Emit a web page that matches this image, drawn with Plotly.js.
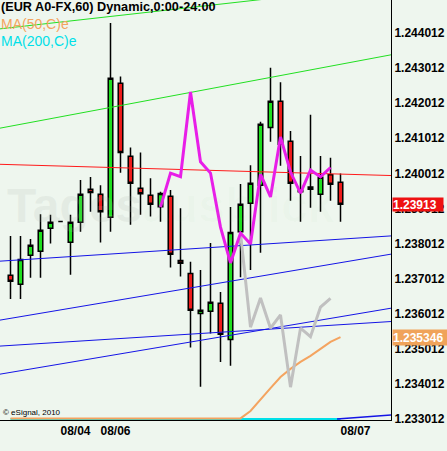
<!DOCTYPE html>
<html>
<head>
<meta charset="utf-8">
<script src="https://cdn.plot.ly/plotly-3.0.1.min.js"></script>
<style>
  html, body { margin: 0; padding: 0; background: #eef6ee; }
  #chart { width: 447px; height: 451px; }
</style>
</head>
<body>
<div id="chart"></div>
<script>
// EUR A0-FX hourly bars
const barIndex = [0,1,2,3,4,5,6,7,8,9,10,11,12,13,14,15,16,17,18,19,20,21,22,23,24,25,26,27,28,29,30,31,32,33];
const openPx  = [1.23711,1.23685,1.23768,1.23779,1.23845,1.23864,1.23805,1.23862,1.23956,1.23942,1.23876,1.24258,1.24050,1.23959,1.23939,1.23906,1.23936,1.23753,1.23716,1.23602,1.23608,1.23631,1.23528,1.23835,1.23916,1.23967,1.24132,1.24207,1.24093,1.23953,1.23962,1.23942,1.23997,1.23976];
const highPx  = [1.23823,1.23823,1.23814,1.23885,1.23883,1.23864,1.23883,1.23982,1.23991,1.23967,1.24430,1.24277,1.24075,1.24061,1.23987,1.23949,1.23954,1.23902,1.23749,1.23726,1.23803,1.23663,1.23905,1.23971,1.24024,1.24148,1.24302,1.24261,1.24122,1.24051,1.24168,1.24051,1.24046,1.24001];
const lowPx   = [1.23643,1.23643,1.23704,1.23704,1.23801,1.23864,1.23712,1.23835,1.23892,1.23804,1.23835,1.24003,1.23855,1.23883,1.23878,1.23863,1.23733,1.23707,1.23505,1.23393,1.23545,1.23464,1.23453,1.23705,1.23726,1.23775,1.24091,1.24023,1.23923,1.23863,1.23903,1.23892,1.23923,1.23863];
const closePx = [1.23694,1.23756,1.23796,1.23839,1.23862,1.23864,1.23862,1.23942,1.23947,1.23892,1.24272,1.24061,1.23973,1.23943,1.23913,1.23944,1.23771,1.23745,1.23611,1.23611,1.23634,1.23543,1.23833,1.23913,1.23973,1.24141,1.24207,1.24084,1.23973,1.23949,1.23956,1.23990,1.23970,1.23913];

// moving averages (clamped to the bottom of the price scale where off-chart)
const ma50  = [1.23303,1.23303,1.23303,1.23303,1.23303,1.23303,1.23303,1.23303,1.23303,1.23303,1.23303,1.23303,1.23303,1.23303,1.23303,1.23303,1.23303,1.23303,1.23303,1.23303,1.23303,1.23303,1.23303,1.23303,1.23324,1.23355,1.23389,1.23421,1.23444,1.23464,1.23481,1.23501,1.23521,1.235346];
const ma200 = [1.23301,1.23301,1.23301,1.23301,1.23301,1.23301,1.23301,1.23301,1.23301,1.23301,1.23301,1.23301,1.23301,1.23301,1.23301,1.23301,1.23301,1.23301,1.23301,1.23301,1.23301,1.23301,1.23301,1.23301,1.23301,1.23301,1.23301,1.23301,1.23301,1.23301,1.23301,1.23301,1.23301,1.23301];

// overlay paths
const pathIndex  = [15,16,17,18,19,20,21,22,23,24,25,26,27,28,29,30,31,32];
const pathValues = [1.23905,1.24002,1.23992,1.24233,1.24034,1.24002,1.23848,1.23746,1.23831,1.23800,1.23999,1.23934,1.24105,1.24005,1.23945,1.24011,1.23991,1.24018];
const projIndex  = [23,24,25,26,27,28,29,30,31,32];
const projValues = [1.23831,1.23563,1.23646,1.23560,1.23598,1.23392,1.23560,1.23536,1.23620,1.23645];

// trend lines: [start bar, end bar] and [start price, end price]
const spanIndex     = [-1.05, 38.05];
const greenUpper    = [1.24413, 1.24538];
const greenLine     = [1.24130, 1.24339];
const redLine       = [1.24027, 1.23995];
const blueLineA     = [1.23751, 1.23823];
const blueLineB     = [1.23583, 1.23771];
const blueLineC     = [1.23509, 1.23579];
const blueLineD     = [1.23429, 1.23617];
const blueShortIdx  = [32.65, 38.05];
const blueLineE     = [1.23301, 1.23313];

// axes
const priceTicks = [1.233012,1.234012,1.235012,1.236012,1.237012,1.238012,1.239012,1.240012,1.241012,1.242012,1.243012,1.244012];
const priceTickText = ['1.233012','1.234012','1.235012','1.236012','1.237012','1.238012','1.239012','1.240012','1.241012','1.242012','1.243012','1.244012'];
const dateTicks = [6.5, 10.5, 34.5];
const dateTickText = ['08/04', '08/06', '08/07'];

const lastClose = closePx[closePx.length - 1];
const lastMa50 = ma50[ma50.length - 1];

const FONT = 'Liberation Sans, Arial, sans-serif';

function seg(x, y, color, width) {
  return { type: 'scatter', mode: 'lines', x: x, y: y,
           line: { color: color, width: width || 1 }, hoverinfo: 'skip', showlegend: false };
}

const traces = [
  seg(spanIndex, greenUpper, '#22e022'),
  seg(spanIndex, greenLine, '#22e022'),
  seg(spanIndex, redLine, '#ff1a1a'),
  seg(spanIndex, blueLineA, '#1414e6'),
  seg(spanIndex, blueLineB, '#1414e6'),
  seg(spanIndex, blueLineC, '#1414e6'),
  seg(spanIndex, blueLineD, '#1414e6'),
  seg(barIndex, ma200, '#00e0e8', 2),
  seg(barIndex, ma50, '#f4a460', 2),
  seg(blueShortIdx, blueLineE, '#1414e6', 1.5),
  seg(projIndex, projValues, '#c0c0c0', 3),
  seg(pathIndex, pathValues, '#e81ee8', 3),
  {
    type: 'candlestick',
    x: barIndex, open: openPx, high: highPx, low: lowPx, close: closePx,
    increasing: { fillcolor: '#1ee01e', line: { color: '#000000', width: 1.5 } },
    decreasing: { fillcolor: '#ee1c1c', line: { color: '#000000', width: 1.5 } },
    whiskerwidth: 0,
    hoverinfo: 'skip',
    showlegend: false
  }
];

const layout = {
  width: 447, height: 451,
  margin: { l: 0, r: 56, t: 0, b: 31, pad: 0 },
  paper_bgcolor: '#eef6ee',
  plot_bgcolor: '#eef6ee',
  showlegend: false,
  boxgap: 0.35,
  font: { family: FONT, color: '#000000' },
  xaxis: {
    range: [-1.05, 38.05],
    tickvals: dateTicks, ticktext: dateTickText,
    tickfont: { family: FONT, size: 12, color: '#000000', weight: 'bold' },
    showgrid: false, zeroline: false,
    showline: true, linecolor: '#000000', linewidth: 1,
    ticks: '',
    rangeslider: { visible: false },
    fixedrange: true
  },
  yaxis: {
    side: 'right',
    range: [1.232984, 1.244952],
    tickvals: priceTicks, ticktext: priceTickText,
    tickfont: { family: FONT, size: 12, color: '#000000', weight: 'bold' },
    showgrid: false, zeroline: false,
    showline: true, linecolor: '#000000', linewidth: 1,
    ticks: '',
    fixedrange: true
  },
  annotations: [
    { text: 'Tages<span style="fill:rgba(140,200,120,0.16)">ausblick</span>',
      xref: 'paper', yref: 'paper', x: 0.012, y: 0.51, xanchor: 'left', yanchor: 'middle',
      showarrow: false, font: { family: FONT, size: 48, weight: 'bold', color: 'rgba(170,180,170,0.16)' } },
    { text: '(EUR A0-FX,60) Dynamic,0:00-24:00',
      xref: 'paper', yref: 'paper', x: 0, y: 0.9833, xanchor: 'left', yanchor: 'middle',
      showarrow: false, borderpad: 0, font: { family: FONT, size: 12.7, weight: 'bold', color: '#000000' } },
    { text: 'MA(50,C)e',
      xref: 'paper', yref: 'paper', x: 0, y: 0.9429, xanchor: 'left', yanchor: 'middle',
      showarrow: false, borderpad: 0, font: { family: FONT, size: 14, color: '#f4a460' } },
    { text: 'MA(200,C)e',
      xref: 'paper', yref: 'paper', x: 0, y: 0.9024, xanchor: 'left', yanchor: 'middle',
      showarrow: false, borderpad: 0, font: { family: FONT, size: 14, color: '#00e0e8' } },
    { text: '© eSignal, 2010',
      xref: 'paper', yref: 'paper', x: 0.006, y: 0.0167, xanchor: 'left', yanchor: 'middle',
      showarrow: false, borderpad: 0, font: { family: FONT, size: 8, color: '#000000' } },
    { text: String(lastClose),
      xref: 'paper', yref: 'y', x: 1, y: lastClose, xanchor: 'left', yanchor: 'middle', xshift: 1,
      showarrow: false, borderpad: 0, width: 50, height: 13, align: 'left',
      bgcolor: '#ee1111', font: { family: FONT, size: 12, weight: 'bold', color: '#ffffff' } },
    { text: String(lastMa50),
      xref: 'paper', yref: 'y', x: 1, y: lastMa50, xanchor: 'left', yanchor: 'middle', xshift: 1,
      showarrow: false, borderpad: 0, width: 54, height: 15, align: 'left',
      bgcolor: '#f0a35a', font: { family: FONT, size: 12, weight: 'bold', color: '#ffffff' } }
  ]
};

Plotly.newPlot('chart', traces, layout, { staticPlot: true, displayModeBar: false });
</script>
</body>
</html>
